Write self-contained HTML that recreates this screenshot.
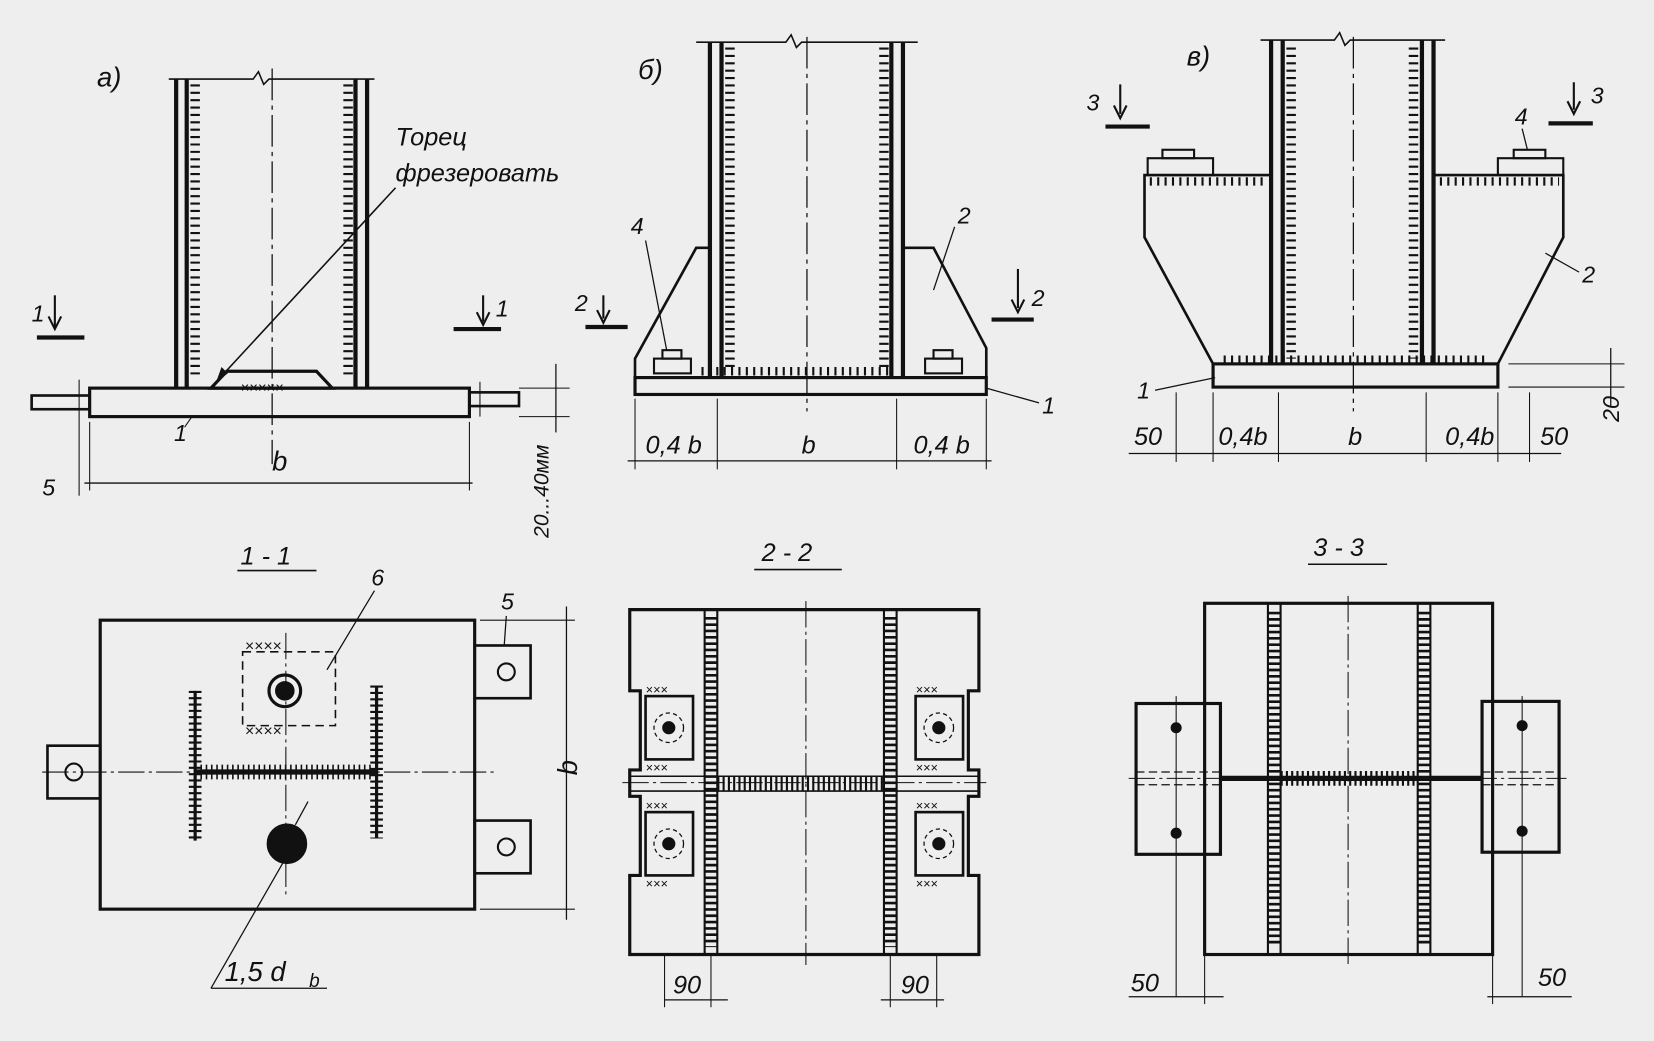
<!DOCTYPE html>
<html><head><meta charset="utf-8"><style>
html,body{margin:0;padding:0;background:#efefef;}
svg{display:block}
text{font-family:"Liberation Sans","DejaVu Sans",sans-serif;font-style:italic;fill:#111;}
</style></head><body>
<svg width="1654" height="1041" viewBox="0 0 1568 987" preserveAspectRatio="none" xmlns="http://www.w3.org/2000/svg">
<rect width="1568" height="987" fill="#eeeeee"/>
<g stroke="#111" fill="none" stroke-width="2.5">

<!-- ===== a) ===== -->
<text x="92" y="82" font-size="26" stroke="none">а)</text>
<line x1="258" y1="65" x2="258" y2="440" stroke-width="1.2" stroke-dasharray="30 5 4 5"/>
<line x1="167" y1="75" x2="167" y2="368" stroke-width="4"/>
<line x1="177" y1="75" x2="177" y2="368" stroke-width="4"/>
<line x1="185" y1="80" x2="185" y2="360" stroke-width="9" stroke-dasharray="2 5"/>
<line x1="337" y1="75" x2="337" y2="368" stroke-width="4"/>
<line x1="348" y1="75" x2="348" y2="368" stroke-width="4"/>
<line x1="330" y1="80" x2="330" y2="360" stroke-width="9" stroke-dasharray="2 5"/>
<path d="M160 75 L240 75 L245 68 L250 80 L255 75 L355 75" stroke-width="1.5"/>
<polygon points="200,368 215,352 300,352 315,368" stroke-width="3"/>
<text x="228" y="372" font-size="14" stroke="none">×××××</text>
<rect x="85" y="368" width="360" height="27" stroke-width="3"/>
<rect x="30" y="375" width="55" height="13" stroke-width="2.5"/>
<rect x="445" y="372" width="47" height="13" stroke-width="2.5"/>
<line x1="75" y1="360" x2="75" y2="470" stroke-width="1"/>
<line x1="455" y1="362" x2="455" y2="395" stroke-width="1"/>
<text x="375" y="138" font-size="24" stroke="none">Торец</text>
<text x="375" y="172" font-size="24" stroke="none">фрезеровать</text>
<line x1="375" y1="178" x2="205" y2="362" stroke-width="1.5"/>
<path d="M205 362 l5 -14 l6 6 z" fill="#111" stroke="none"/>
<text x="30" y="305" font-size="22" stroke="none">1</text>
<line x1="52" y1="280" x2="52" y2="310" stroke-width="2"/><path d="M46 300 L52 312 L58 300" stroke-width="2"/>
<line x1="35" y1="320" x2="80" y2="320" stroke-width="4"/>
<text x="470" y="300" font-size="22" stroke="none">1</text>
<line x1="458" y1="280" x2="458" y2="305" stroke-width="2"/><path d="M452 296 L458 308 L464 296" stroke-width="2"/>
<line x1="430" y1="312" x2="475" y2="312" stroke-width="4"/>
<text x="165" y="418" font-size="22" stroke="none">1</text>
<line x1="182" y1="395" x2="175" y2="405" stroke-width="1"/>
<line x1="80" y1="458" x2="448" y2="458" stroke-width="1.2"/>
<line x1="85" y1="400" x2="85" y2="465" stroke-width="1"/>
<line x1="445" y1="400" x2="445" y2="465" stroke-width="1"/>
<text x="258" y="446" font-size="26" stroke="none">b</text>
<text x="40" y="470" font-size="22" stroke="none">5</text>
<line x1="492" y1="368" x2="540" y2="368" stroke-width="1"/>
<line x1="492" y1="395" x2="540" y2="395" stroke-width="1"/>
<line x1="527" y1="345" x2="527" y2="410" stroke-width="1.2"/>
<text transform="translate(520,510) rotate(-90)" font-size="20" stroke="none">20...40мм</text>

<!-- ===== б) ===== -->
<text x="605" y="75" font-size="26" stroke="none">б)</text>
<line x1="765" y1="35" x2="765" y2="390" stroke-width="1.2" stroke-dasharray="30 5 4 5"/>
<line x1="673" y1="40" x2="673" y2="358" stroke-width="4"/>
<line x1="684" y1="40" x2="684" y2="358" stroke-width="4"/>
<line x1="692" y1="45" x2="692" y2="350" stroke-width="9" stroke-dasharray="2 5"/>
<line x1="845" y1="40" x2="845" y2="358" stroke-width="4"/>
<line x1="856" y1="40" x2="856" y2="358" stroke-width="4"/>
<line x1="838" y1="45" x2="838" y2="350" stroke-width="9" stroke-dasharray="2 5"/>
<line x1="665" y1="352" x2="845" y2="352" stroke-width="8" stroke-dasharray="2 5"/>
<path d="M660 40 L745 40 L750 33 L755 45 L760 40 L870 40" stroke-width="1.5"/>
<rect x="602" y="358" width="333" height="16" stroke-width="3"/>
<path d="M602 358 L602 340 L660 235 L673 235" stroke-width="2.5"/>
<path d="M856 235 L885 235 L935 330 L935 358" stroke-width="2.5"/>
<rect x="620" y="340" width="35" height="14" stroke-width="2"/><rect x="628" y="332" width="18" height="8" stroke-width="2"/>
<rect x="877" y="340" width="35" height="14" stroke-width="2"/><rect x="885" y="332" width="18" height="8" stroke-width="2"/>
<text x="598" y="222" font-size="22" stroke="none">4</text>
<line x1="612" y1="228" x2="632" y2="332" stroke-width="1.2"/>
<text x="908" y="212" font-size="22" stroke="none">2</text>
<line x1="905" y1="215" x2="885" y2="275" stroke-width="1.2"/>
<text x="545" y="295" font-size="22" stroke="none">2</text>
<line x1="572" y1="280" x2="572" y2="302" stroke-width="2"/><path d="M566 294 L572 306 L578 294" stroke-width="2"/>
<line x1="555" y1="310" x2="595" y2="310" stroke-width="4"/>
<text x="978" y="290" font-size="22" stroke="none">2</text>
<line x1="965" y1="255" x2="965" y2="292" stroke-width="2"/><path d="M959 284 L965 296 L971 284" stroke-width="2"/>
<line x1="940" y1="303" x2="980" y2="303" stroke-width="4"/>
<text x="988" y="392" font-size="22" stroke="none">1</text>
<line x1="935" y1="368" x2="985" y2="382" stroke-width="1.2"/>
<line x1="595" y1="437" x2="940" y2="437" stroke-width="1.2"/>
<line x1="602" y1="378" x2="602" y2="445" stroke-width="1"/>
<line x1="680" y1="378" x2="680" y2="445" stroke-width="1"/>
<line x1="850" y1="378" x2="850" y2="445" stroke-width="1"/>
<line x1="935" y1="378" x2="935" y2="445" stroke-width="1"/>
<text x="612" y="430" font-size="24" stroke="none">0,4 b</text>
<text x="760" y="430" font-size="24" stroke="none">b</text>
<text x="866" y="430" font-size="24" stroke="none">0,4 b</text>

<!-- ===== в) ===== -->
<text x="1125" y="62" font-size="26" stroke="none">в)</text>
<line x1="1283" y1="35" x2="1283" y2="390" stroke-width="1.2" stroke-dasharray="30 5 4 5"/>
<line x1="1205" y1="38" x2="1205" y2="345" stroke-width="4"/>
<line x1="1216" y1="38" x2="1216" y2="345" stroke-width="4"/>
<line x1="1224" y1="45" x2="1224" y2="340" stroke-width="9" stroke-dasharray="2 5"/>
<line x1="1348" y1="38" x2="1348" y2="345" stroke-width="4"/>
<line x1="1359" y1="38" x2="1359" y2="345" stroke-width="4"/>
<line x1="1340" y1="45" x2="1340" y2="340" stroke-width="9" stroke-dasharray="2 5"/>
<path d="M1195 38 L1265 38 L1270 31 L1275 43 L1280 38 L1370 38" stroke-width="1.5"/>
<path d="M1205 166 L1085 166 L1085 225 L1150 345" stroke-width="2.5"/>
<path d="M1359 166 L1482 166 L1482 225 L1420 345" stroke-width="2.5"/>
<rect x="1150" y="345" width="270" height="22" stroke-width="3"/>
<line x1="1160" y1="341" x2="1410" y2="341" stroke-width="8" stroke-dasharray="2 5"/>
<line x1="1090" y1="172" x2="1200" y2="172" stroke-width="8" stroke-dasharray="2 5"/>
<line x1="1365" y1="172" x2="1478" y2="172" stroke-width="8" stroke-dasharray="2 5"/>
<rect x="1088" y="150" width="62" height="16" stroke-width="2"/><rect x="1102" y="142" width="30" height="8" stroke-width="2"/>
<rect x="1420" y="150" width="62" height="16" stroke-width="2"/><rect x="1435" y="142" width="30" height="8" stroke-width="2"/>
<text x="1030" y="105" font-size="22" stroke="none">3</text>
<line x1="1062" y1="80" x2="1062" y2="108" stroke-width="2"/><path d="M1056 100 L1062 112 L1068 100" stroke-width="2"/>
<line x1="1048" y1="120" x2="1090" y2="120" stroke-width="4"/>
<text x="1508" y="98" font-size="22" stroke="none">3</text>
<line x1="1492" y1="78" x2="1492" y2="104" stroke-width="2"/><path d="M1486 96 L1492 108 L1498 96" stroke-width="2"/>
<line x1="1468" y1="117" x2="1510" y2="117" stroke-width="4"/>
<text x="1436" y="118" font-size="22" stroke="none">4</text>
<line x1="1443" y1="122" x2="1448" y2="142" stroke-width="1.2"/>
<text x="1500" y="268" font-size="22" stroke="none">2</text>
<line x1="1497" y1="258" x2="1465" y2="240" stroke-width="1.2"/>
<text x="1078" y="378" font-size="22" stroke="none">1</text>
<line x1="1095" y1="370" x2="1152" y2="358" stroke-width="1.2"/>
<line x1="1070" y1="430" x2="1480" y2="430" stroke-width="1.2"/>
<line x1="1115" y1="372" x2="1115" y2="438" stroke-width="1"/>
<line x1="1150" y1="372" x2="1150" y2="438" stroke-width="1"/>
<line x1="1212" y1="372" x2="1212" y2="438" stroke-width="1"/>
<line x1="1352" y1="372" x2="1352" y2="438" stroke-width="1"/>
<line x1="1420" y1="372" x2="1420" y2="438" stroke-width="1"/>
<line x1="1450" y1="372" x2="1450" y2="438" stroke-width="1"/>
<text x="1075" y="422" font-size="24" stroke="none">50</text>
<text x="1155" y="422" font-size="24" stroke="none">0,4b</text>
<text x="1278" y="422" font-size="24" stroke="none">b</text>
<text x="1370" y="422" font-size="24" stroke="none">0,4b</text>
<text x="1460" y="422" font-size="24" stroke="none">50</text>
<line x1="1430" y1="345" x2="1540" y2="345" stroke-width="1"/>
<line x1="1430" y1="367" x2="1540" y2="367" stroke-width="1"/>
<line x1="1527" y1="330" x2="1527" y2="385" stroke-width="1.2"/>
<text transform="translate(1535,400) rotate(-90)" font-size="22" stroke="none">20</text>

<!-- ===== 1-1 ===== -->
<text x="228" y="535" font-size="24" stroke="none">1 - 1</text>
<line x1="225" y1="541" x2="300" y2="541" stroke-width="1.5"/>
<rect x="95" y="588" width="355" height="274" stroke-width="3"/>
<rect x="450" y="612" width="53" height="50" stroke-width="2.5"/>
<rect x="450" y="778" width="53" height="50" stroke-width="2.5"/>
<rect x="45" y="707" width="50" height="50" stroke-width="2.5"/>
<circle cx="480" cy="637" r="8" stroke-width="2"/><circle cx="480" cy="803" r="8" stroke-width="2"/><circle cx="70" cy="732" r="8" stroke-width="2"/>
<line x1="40" y1="732" x2="470" y2="732" stroke-width="1" stroke-dasharray="25 4 3 4"/>
<line x1="271" y1="600" x2="271" y2="850" stroke-width="1" stroke-dasharray="25 4 3 4"/>
<rect x="230" y="618" width="88" height="70" stroke-width="1.5" stroke-dasharray="8 5"/>
<text x="232" y="617" font-size="15" stroke="none">××××</text>
<text x="232" y="698" font-size="15" stroke="none">××××</text>
<circle cx="270" cy="655" r="15" stroke-width="3"/><circle cx="270" cy="655" r="8" fill="#111"/>
<circle cx="272" cy="800" r="18" fill="#111"/>
<line x1="185" y1="655" x2="185" y2="797" stroke-width="12" stroke-dasharray="2 4"/>
<line x1="185" y1="655" x2="185" y2="797" stroke-width="3"/>
<line x1="357" y1="650" x2="357" y2="795" stroke-width="12" stroke-dasharray="2 4"/>
<line x1="357" y1="650" x2="357" y2="795" stroke-width="3"/>
<line x1="185" y1="732" x2="357" y2="732" stroke-width="5"/>
<line x1="190" y1="732" x2="352" y2="732" stroke-width="14" stroke-dasharray="1.5 3.5"/>
<text x="352" y="555" font-size="22" stroke="none">6</text>
<line x1="355" y1="560" x2="310" y2="635" stroke-width="1.2"/>
<text x="475" y="578" font-size="22" stroke="none">5</text>
<line x1="480" y1="584" x2="478" y2="612" stroke-width="1.2"/>
<line x1="455" y1="588" x2="545" y2="588" stroke-width="1"/>
<line x1="455" y1="862" x2="545" y2="862" stroke-width="1"/>
<line x1="537" y1="575" x2="537" y2="872" stroke-width="1.2"/>
<text transform="translate(547,735) rotate(-90)" font-size="26" stroke="none">b</text>
<line x1="200" y1="937" x2="310" y2="937" stroke-width="1.2"/>
<line x1="200" y1="937" x2="270" y2="815" stroke-width="1.2"/>
<line x1="292" y1="760" x2="280" y2="782" stroke-width="1.2"/>
<text x="213" y="930" font-size="26" stroke="none">1,5 d</text><text x="293" y="936" font-size="18" stroke="none">b</text>

<!-- ===== 2-2 ===== -->
<text x="722" y="532" font-size="24" stroke="none">2 - 2</text>
<line x1="715" y1="540" x2="798" y2="540" stroke-width="1.5"/>
<path d="M597 578 L928 578 L928 655 L918 655 L918 730 L928 730 L928 755 L918 755 L918 830 L928 830 L928 905 L597 905 L597 830 L607 830 L607 755 L597 755 L597 730 L607 730 L607 655 L597 655 Z" stroke-width="3"/>
<line x1="764" y1="570" x2="764" y2="915" stroke-width="1" stroke-dasharray="25 4 3 4"/>
<line x1="590" y1="742" x2="935" y2="742" stroke-width="1" stroke-dasharray="25 4 3 4"/>
<line x1="668" y1="578" x2="668" y2="905" stroke-width="2"/><line x1="680" y1="578" x2="680" y2="905" stroke-width="2"/>
<line x1="674" y1="585" x2="674" y2="898" stroke-width="12" stroke-dasharray="2.5 3.5"/>
<line x1="838" y1="578" x2="838" y2="905" stroke-width="2"/><line x1="850" y1="578" x2="850" y2="905" stroke-width="2"/>
<line x1="844" y1="585" x2="844" y2="898" stroke-width="12" stroke-dasharray="2.5 3.5"/>
<line x1="597" y1="736" x2="928" y2="736" stroke-width="1.5"/><line x1="597" y1="750" x2="928" y2="750" stroke-width="1.5"/>
<line x1="680" y1="743" x2="838" y2="743" stroke-width="14" stroke-dasharray="2 3"/>
<rect x="612" y="660" width="45" height="60" stroke-width="2.5"/><rect x="612" y="770" width="45" height="60" stroke-width="2.5"/>
<rect x="868" y="660" width="45" height="60" stroke-width="2.5"/><rect x="868" y="770" width="45" height="60" stroke-width="2.5"/>
<circle cx="634" cy="690" r="5" fill="#111"/><circle cx="634" cy="800" r="5" fill="#111"/>
<circle cx="890" cy="690" r="5" fill="#111"/><circle cx="890" cy="800" r="5" fill="#111"/>
<circle cx="634" cy="690" r="14" stroke-width="1.2" stroke-dasharray="4 3"/><circle cx="634" cy="800" r="14" stroke-width="1.2" stroke-dasharray="4 3"/>
<circle cx="890" cy="690" r="14" stroke-width="1.2" stroke-dasharray="4 3"/><circle cx="890" cy="800" r="14" stroke-width="1.2" stroke-dasharray="4 3"/>
<text x="612" y="658" font-size="12" stroke="none">×××</text><text x="612" y="732" font-size="12" stroke="none">×××</text>
<text x="612" y="768" font-size="12" stroke="none">×××</text><text x="612" y="842" font-size="12" stroke="none">×××</text>
<text x="868" y="658" font-size="12" stroke="none">×××</text><text x="868" y="732" font-size="12" stroke="none">×××</text>
<text x="868" y="768" font-size="12" stroke="none">×××</text><text x="868" y="842" font-size="12" stroke="none">×××</text>
<line x1="630" y1="948" x2="690" y2="948" stroke-width="1.2"/>
<line x1="630" y1="905" x2="630" y2="955" stroke-width="1"/><line x1="674" y1="905" x2="674" y2="955" stroke-width="1"/>
<text x="638" y="942" font-size="24" stroke="none">90</text>
<line x1="835" y1="948" x2="895" y2="948" stroke-width="1.2"/>
<line x1="844" y1="905" x2="844" y2="955" stroke-width="1"/><line x1="888" y1="905" x2="888" y2="955" stroke-width="1"/>
<text x="854" y="942" font-size="24" stroke="none">90</text>

<!-- ===== 3-3 ===== -->
<text x="1245" y="527" font-size="24" stroke="none">3 - 3</text>
<line x1="1240" y1="535" x2="1315" y2="535" stroke-width="1.5"/>
<rect x="1142" y="572" width="273" height="333" stroke-width="3"/>
<rect x="1077" y="667" width="80" height="143" stroke-width="3"/>
<rect x="1405" y="665" width="73" height="143" stroke-width="3"/>
<line x1="1278" y1="565" x2="1278" y2="915" stroke-width="1" stroke-dasharray="25 4 3 4"/>
<line x1="1070" y1="738" x2="1485" y2="738" stroke-width="1" stroke-dasharray="25 4 3 4"/>
<line x1="1077" y1="732" x2="1157" y2="732" stroke-width="1.2" stroke-dasharray="8 4"/>
<line x1="1077" y1="744" x2="1157" y2="744" stroke-width="1.2" stroke-dasharray="8 4"/>
<line x1="1405" y1="732" x2="1478" y2="732" stroke-width="1.2" stroke-dasharray="8 4"/>
<line x1="1405" y1="744" x2="1478" y2="744" stroke-width="1.2" stroke-dasharray="8 4"/>
<line x1="1115" y1="660" x2="1115" y2="945" stroke-width="1"/>
<line x1="1443" y1="660" x2="1443" y2="945" stroke-width="1"/>
<circle cx="1115" cy="690" r="4" fill="#111"/><circle cx="1115" cy="790" r="4" fill="#111"/>
<circle cx="1443" cy="688" r="4" fill="#111"/><circle cx="1443" cy="788" r="4" fill="#111"/>
<line x1="1202" y1="572" x2="1202" y2="905" stroke-width="2"/><line x1="1214" y1="572" x2="1214" y2="905" stroke-width="2"/>
<line x1="1208" y1="580" x2="1208" y2="898" stroke-width="12" stroke-dasharray="2.5 3.5"/>
<line x1="1344" y1="572" x2="1344" y2="905" stroke-width="2"/><line x1="1356" y1="572" x2="1356" y2="905" stroke-width="2"/>
<line x1="1350" y1="580" x2="1350" y2="898" stroke-width="12" stroke-dasharray="2.5 3.5"/>
<line x1="1157" y1="738" x2="1405" y2="738" stroke-width="5"/>
<line x1="1214" y1="738" x2="1344" y2="738" stroke-width="14" stroke-dasharray="2 3"/>
<line x1="1070" y1="945" x2="1160" y2="945" stroke-width="1.2"/>
<line x1="1142" y1="905" x2="1142" y2="952" stroke-width="1"/>
<text x="1072" y="940" font-size="24" stroke="none">50</text>
<line x1="1410" y1="945" x2="1490" y2="945" stroke-width="1.2"/>
<line x1="1415" y1="905" x2="1415" y2="952" stroke-width="1"/>
<text x="1458" y="935" font-size="24" stroke="none">50</text>
</g>
</svg>
</body></html>
